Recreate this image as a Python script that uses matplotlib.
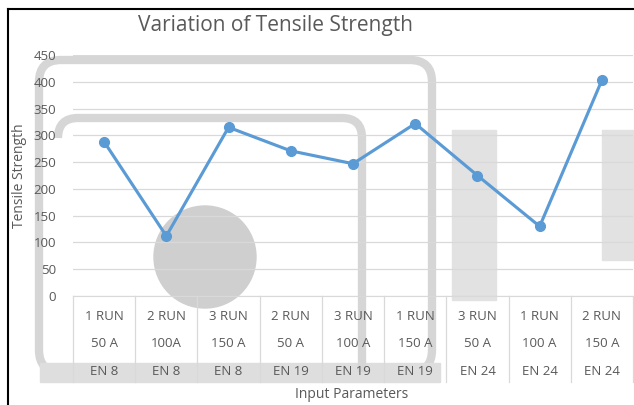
import matplotlib.pyplot as plt
from matplotlib.patches import FancyBboxPatch, Circle, Rectangle, PathPatch
from matplotlib.path import Path

# data
runs = ['1 RUN', '2 RUN', '3 RUN', '2 RUN', '3 RUN', '1 RUN', '3 RUN', '1 RUN', '2 RUN']
currents = ['50 A', '100A', '150 A', '50 A', '100 A', '150 A', '50 A', '100 A', '150 A']
materials = ['EN 8', 'EN 8', 'EN 8', 'EN 19', 'EN 19', 'EN 19', 'EN 24', 'EN 24', 'EN 24']
strength = [288, 112, 315, 271, 247, 322, 225, 130, 403]

W, H = 634, 405
plt.rcParams['font.family'] = ['Open Sans', 'DejaVu Sans']
txt = '#595959'

fig = plt.figure(figsize=(W / 100, H / 100), dpi=100)

# background layer in pixel coordinates (grey watermark + frame)
bg = fig.add_axes([0, 0, 1, 1], zorder=-5)
bg.set_xlim(0, W)
bg.set_ylim(H, 0)
bg.axis('off')
wm = '#d6d6d6'
bg.add_patch(FancyBboxPatch((39, 60), 393, 312, boxstyle='round,pad=0,rounding_size=22',
                            fill=False, ec=wm, lw=6))
bg.add_patch(Rectangle((40, 363), 400, 19, color='#dedede'))
inner = Path([(58, 138), (58, 118), (78, 118), (342, 118), (362, 118), (362, 138), (362, 372)],
             [Path.MOVETO, Path.CURVE3, Path.CURVE3, Path.LINETO, Path.CURVE3, Path.CURVE3, Path.LINETO])
bg.add_patch(PathPatch(inner, fill=False, ec=wm, lw=6))
bg.add_patch(Circle((205, 257), 51, color='#cfcfcf'))
bg.add_patch(Rectangle((452, 130), 44, 170, color='#e2e2e2'))
bg.add_patch(Rectangle((602, 130), 32, 130, color='#e2e2e2'))
bg.plot([8, W], [9, 9], color='black', lw=1.5)
bg.plot([8, 8], [9, H], color='black', lw=1.5)

ax = fig.add_axes([73 / W, 1 - 296 / H, 560 / W, 241 / H])
ax.patch.set_alpha(0)
n = len(strength)
x = list(range(n))
ax.plot(x, strength, color='#5b9bd5', lw=2.25, marker='o', ms=7, zorder=3)

ax.set_xlim(-0.5, n - 0.5)
ax.set_ylim(0, 450)
ax.set_yticks(range(0, 451, 50))
ax.yaxis.grid(True, color='#d9d9d9', lw=0.9)
ax.set_axisbelow(True)
ax.tick_params(axis='y', length=0, colors=txt, labelsize=9.5, pad=12)
ax.tick_params(axis='x', length=0, labelbottom=False)
for s in ['top', 'right', 'left']:
    ax.spines[s].set_visible(False)
ax.spines['bottom'].set_color('#d9d9d9')

# multi-level category labels
tr = ax.get_xaxis_transform()
for i in x:
    ax.text(i, -0.083, runs[i], transform=tr, ha='center', va='center', color=txt, fontsize=9.5)
    ax.text(i, -0.199, currents[i], transform=tr, ha='center', va='center', color=txt, fontsize=9.5)
    ax.text(i, -0.315, materials[i], transform=tr, ha='center', va='center', color=txt, fontsize=9.5)
for i in range(n + 1):
    ax.plot([i - 0.5, i - 0.5], [0, -0.357], transform=tr, color='#d9d9d9', lw=0.9, clip_on=False)

fig.text(276 / W, 1 - 25 / H, 'Variation of Tensile Strength', ha='center', va='center',
         color=txt, fontsize=15)
fig.text(20 / W, 1 - 176 / H, 'Tensile Strength', rotation=90, ha='center', va='center',
         color=txt, fontsize=10)
fig.text(352 / W, 1 - 395 / H, 'Input Parameters', ha='center', va='center',
         color=txt, fontsize=10)

fig.savefig('out.png', dpi=100)
